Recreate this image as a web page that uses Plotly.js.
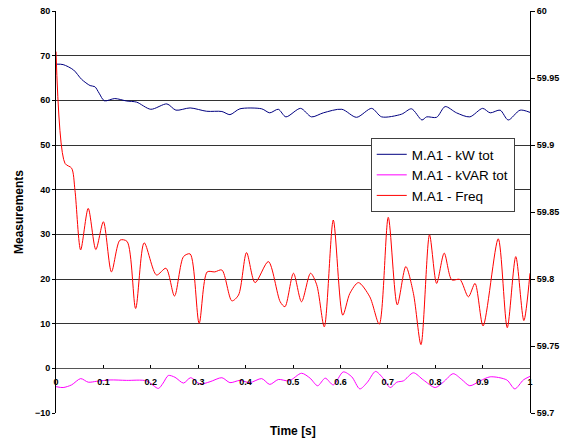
<!DOCTYPE html>
<html>
<head>
<meta charset="utf-8">
<script src="https://cdn.plot.ly/plotly-3.0.1.min.js"></script>
<style>html,body{margin:0;padding:0;background:#fff;}#chart{width:572px;height:439px;}</style>
</head>
<body>
<div id="chart"></div>
<script>
// kW tot (left axis)
const kwTime = [0, 0.015, 0.037, 0.054, 0.072, 0.082, 0.091, 0.102, 0.124, 0.149, 0.170, 0.200, 0.234, 0.253, 0.283, 0.318, 0.350, 0.367, 0.388, 0.434, 0.451, 0.469, 0.485, 0.516, 0.539, 0.564, 0.603, 0.634, 0.666, 0.687, 0.729, 0.750, 0.772, 0.782, 0.803, 0.821, 0.845, 0.873, 0.900, 0.916, 0.937, 0.954, 0.979, 1.0];
const kwValues = [68.1, 68.0, 66.8, 64.7, 63.3, 63.05, 61.6, 59.9, 60.4, 59.85, 59.6, 58.0, 59.2, 57.8, 58.3, 57.55, 57.5, 56.8, 58.1, 58.1, 57.2, 58.0, 56.3, 58.2, 56.3, 57.2, 58.0, 56.2, 58.2, 56.3, 56.9, 58.1, 55.6, 56.3, 56.2, 58.6, 57.2, 56.3, 58.2, 57.2, 57.8, 55.6, 57.8, 57.3];

// kVAR tot (left axis)
const kvarTime = [0, 0.015, 0.033, 0.052, 0.068, 0.086, 0.114, 0.149, 0.191, 0.216, 0.226, 0.237, 0.251, 0.269, 0.284, 0.304, 0.325, 0.350, 0.367, 0.388, 0.409, 0.434, 0.451, 0.469, 0.492, 0.518, 0.536, 0.552, 0.568, 0.585, 0.606, 0.624, 0.641, 0.657, 0.674, 0.690, 0.705, 0.719, 0.733, 0.754, 0.775, 0.800, 0.817, 0.838, 0.856, 0.873, 0.895, 0.916, 0.951, 0.968, 0.986, 1.0];
const kvarValues = [-4.1, -4.3, -3.7, -2.3, -3.1, -2.9, -2.6, -2.7, -2.8, -4.5, -3.3, -1.6, -2.0, -3.3, -2.1, -3.5, -3.0, -2.1, -3.2, -2.7, -3.2, -2.3, -3.6, -2.5, -2.8, -1.1, -2.2, -3.9, -2.2, -3.7, -0.8, -1.9, -4.6, -3.1, -0.7, -2.2, -4.3, -3.1, -2.8, -1.0, -2.6, -4.3, -3.1, -1.2, -2.5, -3.9, -2.8, -1.9, -2.6, -4.6, -2.6, -1.8];

// Freq (right axis)
const freqTime = [0, 0.019, 0.033, 0.040, 0.052, 0.068, 0.084, 0.100, 0.117, 0.135, 0.150, 0.168, 0.186, 0.212, 0.232, 0.250, 0.269, 0.283, 0.302, 0.319, 0.335, 0.350, 0.371, 0.385, 0.402, 0.420, 0.448, 0.473, 0.483, 0.501, 0.518, 0.537, 0.550, 0.566, 0.585, 0.605, 0.620, 0.638, 0.662, 0.682, 0.701, 0.720, 0.738, 0.754, 0.770, 0.788, 0.803, 0.819, 0.835, 0.852, 0.870, 0.884, 0.901, 0.933, 0.952, 0.970, 0.987, 1.0];
const freqValues = [59.9697, 59.8863, 59.8827, 59.8663, 59.8217, 59.8527, 59.8220, 59.8427, 59.8053, 59.8290, 59.8280, 59.7780, 59.8270, 59.8030, 59.8080, 59.7873, 59.8167, 59.8187, 59.7670, 59.8053, 59.8053, 59.8067, 59.7837, 59.7880, 59.8197, 59.7973, 59.8130, 59.7830, 59.7793, 59.8043, 59.7830, 59.8043, 59.7957, 59.7643, 59.8440, 59.7730, 59.7893, 59.7973, 59.7867, 59.7663, 59.8460, 59.7807, 59.8093, 59.7893, 59.7510, 59.8330, 59.7967, 59.8193, 59.7993, 59.7997, 59.7867, 59.7967, 59.7650, 59.8300, 59.7637, 59.8167, 59.7690, 59.8043];

const seriesNames = ["M.A1 - kW tot", "M.A1 - kVAR tot", "M.A1 - Freq"];
const xTickVals = [0, 0.1, 0.2, 0.3, 0.4, 0.5, 0.6, 0.7, 0.8, 0.9, 1];
const xTickText = ["0", "0.1", "0.2", "0.3", "0.4", "0.5", "0.6", "0.7", "0.8", "0.9", "1"];

const FONT = "Arial, 'Liberation Sans', sans-serif";
const lineShape = {shape: "spline", smoothing: 0.8, width: 1};

const traces = [
  {x: kwTime, y: kwValues, name: seriesNames[0], type: "scatter", mode: "lines",
   line: Object.assign({color: "#000080"}, lineShape), yaxis: "y"},
  {x: kvarTime, y: kvarValues, name: seriesNames[1], type: "scatter", mode: "lines",
   line: Object.assign({color: "#FF00FF"}, lineShape), yaxis: "y"},
  {x: freqTime, y: freqValues, name: seriesNames[2], type: "scatter", mode: "lines",
   line: Object.assign({color: "#FF0000"}, lineShape), yaxis: "y2"}
];

const layout = {
  width: 572, height: 439,
  margin: {l: 56, r: 42, t: 11, b: 26},
  paper_bgcolor: "#fff", plot_bgcolor: "#fff",
  font: {family: FONT, color: "#000"},
  showlegend: true,
  legend: {x: 0.664, y: 0.684, xanchor: "left", yanchor: "top",
           bgcolor: "#fff", bordercolor: "#404040", borderwidth: 1,
           font: {family: FONT, size: 13.5, color: "#000"},
           itemwidth: 30, tracegroupgap: 0},
  xaxis: {range: [0, 1], tickvals: xTickVals, ticktext: xTickText,
          anchor: "free", position: 10/90,
          showline: true, linecolor: "#555", linewidth: 1,
          ticks: "inside", ticklen: 3, tickcolor: "#000",
          ticklabelstandoff: 5,
          showgrid: false, zeroline: false,
          tickfont: {family: FONT, size: 9, color: "#000", weight: "bold"}},
  yaxis: {range: [-10, 80], dtick: 10, tick0: 0,
          showline: true, linecolor: "#000", linewidth: 1,
          ticks: "outside", ticklen: 3, tickcolor: "#000",
          showgrid: true, gridcolor: "#333", gridwidth: 1, zeroline: false,
          tickfont: {family: FONT, size: 9, color: "#000", weight: "bold"},
          title: {text: "Measurements", font: {family: FONT, size: 12, color: "#000", weight: "bold"}, standoff: 8}},
  yaxis2: {range: [59.7, 60], dtick: 0.05, tick0: 59.7, overlaying: "y", side: "right",
           showline: true, linecolor: "#000", linewidth: 1,
           ticks: "outside", ticklen: 4, tickcolor: "#000",
           showgrid: false, zeroline: false,
           tickfont: {family: FONT, size: 9, color: "#000", weight: "bold"}},
  annotations: [{text: "Time [s]", xref: "paper", yref: "paper", x: 0.5, y: -0.045,
                 xanchor: "center", yanchor: "middle", showarrow: false,
                 font: {family: FONT, size: 12, color: "#000", weight: "bold"}}]
};

Plotly.newPlot("chart", traces, layout, {displayModeBar: false, staticPlot: true});
</script>
</body>
</html>
